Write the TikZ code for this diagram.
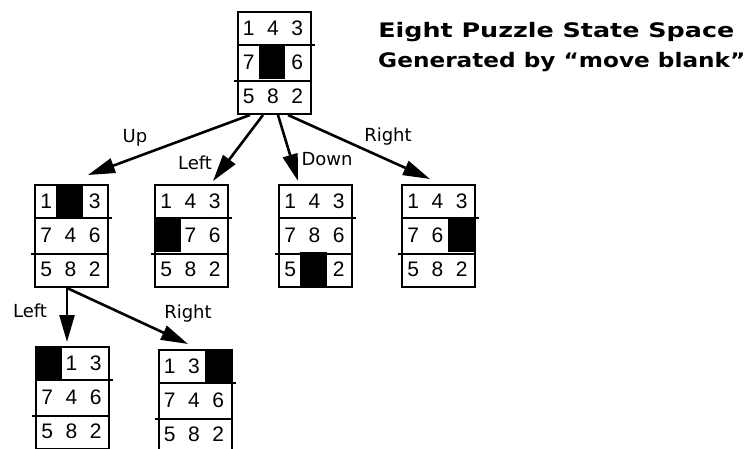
\documentclass[tikz,border=0pt]{standalone}
\usepackage{fontspec}
\setmainfont{Liberation Sans}
\newfontfamily\titlefont{DejaVu Sans}
\usetikzlibrary{arrows.meta}

\tikzset{
  board/.style={draw, line width=2pt, minimum width=73pt, minimum height=102pt, inner sep=0pt},
  tile/.style={font=\fontsize{21}{21}\selectfont, inner sep=0pt},
  move/.style={line width=2.6pt, -{Triangle[length=27pt,width=15pt]}},
  movelabel/.style={font=\titlefont\fontsize{18}{18}\selectfont, inner sep=0pt},
  titleline/.style={font=\titlefont\bfseries\fontsize{20}{20}\selectfont, anchor=north west, inner sep=0pt},
}

% name, centre, tiles (0 = blank)
\newcommand{\puzzle}[3]{%
  \node[board] (#1) at (#2) {};
  \foreach \val [count=\idx from 0] in {#3}{
    \pgfmathtruncatemacro{\cx}{mod(\idx,3)}
    \pgfmathtruncatemacro{\ry}{div(\idx,3)}
    \ifnum\val=0
      % blank is a little wider than a third
      \pgfmathsetmacro{\bx}{\cx==0 ? 0 : (\cx==1 ? 22 : 47)}
      \fill ([xshift=\bx pt, yshift=-\ry*34pt]#1.north west) rectangle ++(26.5pt,-34pt);
    \else
      \node[tile] (#1-\idx) at ([xshift=\cx*24.33pt+12.17pt, yshift=-\ry*34pt-17pt]#1.north west) {\val};
    \fi
  }
  \draw[line width=2pt] ([yshift=-34pt]#1.north west) -- ([xshift=3pt,yshift=-34pt]#1.north east);
  \draw[line width=2pt] ([xshift=-3pt,yshift=34pt]#1.south west) -- ([yshift=34pt]#1.south east);
}

\begin{document}
\begin{tikzpicture}[x=1pt,y=-1pt]
  \useasboundingbox (0,0) rectangle (755,448);
  \clip (0,0) rectangle (755,448);

  % Boards
  \puzzle{root}{274,63}{1,4,3,7,0,6,5,8,2}
  \puzzle{up}{71.5,236}{1,0,3,7,4,6,5,8,2}
  \puzzle{lt}{191.5,236}{1,4,3,0,7,6,5,8,2}
  \puzzle{dn}{315.5,236}{1,4,3,7,8,6,5,0,2}
  \puzzle{rt}{438.5,236}{1,4,3,7,6,0,5,8,2}
  \puzzle{upl}{72.5,398}{0,1,3,7,4,6,5,8,2}
  \puzzle{upr}{195,401}{1,3,0,7,4,6,5,8,2}

  % Moves
  \draw[move] ([xshift=-24pt]root.south) -- ([xshift=16.5pt,yshift=9pt]up.north);
  \draw[move] ([xshift=-11pt]root.south) -- ([xshift=21.5pt,yshift=3pt]lt.north);
  \draw[move] ([xshift=4pt]root.south) -- ([xshift=-17.5pt,yshift=3pt]dn.north);
  \draw[move] ([xshift=14pt]root.south) -- ([xshift=-8.5pt,yshift=5pt]rt.north);
  \draw[move] ([xshift=-4.5pt]up.south) -- ([xshift=-5.5pt,yshift=4pt]upl.north);
  \draw[move] ([xshift=-4.5pt]up.south) -- ([xshift=-7pt,yshift=5pt]upr.north);

  % Labels
  \node[movelabel] (lblup) at (135,138) {Up};
  \node[movelabel] (lbllt) at (195,163) {Left};
  \node[movelabel] (lbldn) at (327,159) {Down};
  \node[movelabel] (lblrt) at (388,137) {Right};
  \node[movelabel] (lblupl) at (30,311) {Left};
  \node[movelabel] (lblupr) at (188,314) {Right};

  % Title, two lines
  \node[titleline, xscale=1.27] (title1) at (378,22) {Eight Puzzle State Space};
  \node[titleline, xscale=1.16] (title2) at (378,52) {Generated by “move blank”};
\end{tikzpicture}
\end{document}
